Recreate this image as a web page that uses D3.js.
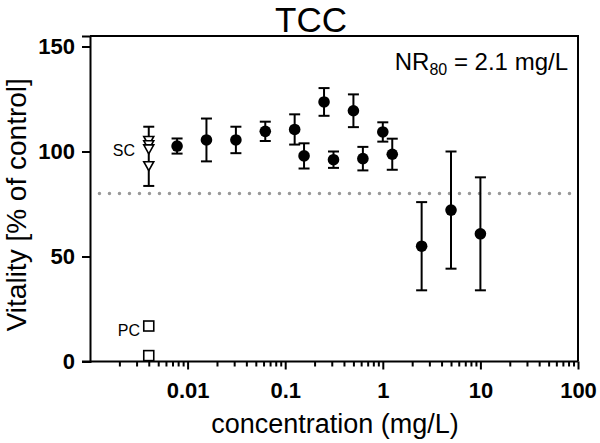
<!DOCTYPE html>
<html>
<head>
<meta charset="utf-8">
<script src="https://cdn.jsdelivr.net/npm/d3@7"></script>
<style>
  body { margin: 0; background: #fff; }
  text { font-family: "Liberation Sans", Arial, sans-serif; }
</style>
</head>
<body>
<script>
// concentrations (mg/L) and vitality mean / sd (% of control)
var conc = [0.0078, 0.0156, 0.03125, 0.0625, 0.125, 0.156, 0.25, 0.3125, 0.5, 0.625, 1, 1.25, 2.5, 5, 10];
var vitality = [102.6, 105.5, 105.5, 109.6, 110.5, 97.9, 123.6, 96.1, 119.4, 96.6, 109.3, 98.7, 54.9, 72.1, 60.8];
var vitalitySd = [3.6, 10.2, 6.3, 4.6, 7.2, 6.0, 6.6, 3.9, 7.8, 5.6, 4.6, 7.4, 21, 27.9, 26.9];

// solvent control and positive control (plotted at a dummy concentration)
var controlConc = 0.004;
var scValues = [105, 103, 101, 93];
var scMean = 97.7, scSd = 14.1;
var pcValues = [16.9, 2.8];

var threshold = 80;
var yTicks = [0, 50, 100, 150];
var xMajor = [0.01, 0.1, 1, 10, 100];
var xMinor = [];
[0.001, 0.01, 0.1, 1, 10].forEach(function (d) {
  for (var k = 2; k <= 9; k++) xMinor.push(d * k);
});

var width = 600, height = 443;
var plotLeft = 90, plotRight = 578, plotTop = 36, plotBottom = 361.5;

var svg = d3.select("body").append("svg")
  .attr("width", width)
  .attr("height", height);

var x = d3.scaleLog().domain([0.001, 100]).range([plotLeft, plotRight]);
var y = d3.scaleLinear().domain([0, 155]).range([plotBottom, plotTop]);

// frame top / right
svg.append("path")
  .attr("d", "M" + plotLeft + "," + plotTop + "H" + plotRight + "V" + plotBottom)
  .attr("fill", "none").attr("stroke", "#000").attr("stroke-width", 2);

// threshold dotted line
svg.append("line")
  .attr("x1", x(0.00125)).attr("x2", plotRight)
  .attr("y1", y(threshold)).attr("y2", y(threshold))
  .attr("stroke", "#999").attr("stroke-width", 3.5)
  .attr("stroke-linecap", "round").attr("stroke-dasharray", "0,10");

// y axis
var yAxis = svg.append("g")
  .attr("transform", "translate(" + plotLeft + ",0)")
  .call(d3.axisLeft(y).tickValues(yTicks).tickSize(8).tickPadding(7));
yAxis.selectAll("text").attr("font-size", 22).attr("font-weight", "bold")
  .attr("font-family", "Liberation Sans, Arial, sans-serif");

// x axis, minor then major
var xMinorAxis = svg.append("g")
  .attr("transform", "translate(0," + plotBottom + ")")
  .call(d3.axisBottom(x).tickValues(xMinor).tickSize(5).tickFormat(""));
var xAxis = svg.append("g")
  .attr("transform", "translate(0," + plotBottom + ")")
  .call(d3.axisBottom(x).tickValues(xMajor).tickSize(8).tickPadding(13)
    .tickFormat(function (d) { return d3.format("~g")(d); }));
xAxis.selectAll("text").attr("font-size", 22).attr("font-weight", "bold")
  .attr("font-family", "Liberation Sans, Arial, sans-serif");

svg.selectAll(".domain").attr("stroke-width", 2);
svg.selectAll(".tick line").attr("stroke-width", 2);
xAxis.select(".domain").attr("d", "M" + (plotLeft - 8) + ",0H" + plotRight);
xMinorAxis.select(".domain").remove();

// error bars
var rows = conc.map(function (c, i) { return { c: c, m: vitality[i], s: vitalitySd[i] }; });
rows.push({ c: controlConc, m: scMean, s: scSd });

var bars = svg.append("g").attr("stroke", "#000").attr("stroke-width", 2);
rows.forEach(function (r) {
  var cx = x(r.c);
  bars.append("line").attr("x1", cx).attr("x2", cx).attr("y1", y(r.m - r.s)).attr("y2", y(r.m + r.s));
  [r.m - r.s, r.m + r.s].forEach(function (v) {
    bars.append("line").attr("x1", cx - 5.5).attr("x2", cx + 5.5).attr("y1", y(v)).attr("y2", y(v));
  });
});

// solvent control triangles
svg.append("g").selectAll("path")
  .data(scValues).enter().append("path")
  .attr("d", "M-5,-4.5L5,-4.5L0,4.5Z")
  .attr("transform", function (d) { return "translate(" + x(controlConc) + "," + y(d) + ")"; })
  .attr("fill", "#fff").attr("stroke", "#000").attr("stroke-width", 1.6);

// positive control squares
svg.append("g").selectAll("rect")
  .data(pcValues).enter().append("rect")
  .attr("x", x(controlConc) - 5).attr("y", function (d) { return y(d) - 5; })
  .attr("width", 10).attr("height", 10)
  .attr("fill", "#fff").attr("stroke", "#000").attr("stroke-width", 1.6);

// data points
svg.append("g").selectAll("circle")
  .data(rows.slice(0, conc.length)).enter().append("circle")
  .attr("cx", function (d) { return x(d.c); })
  .attr("cy", function (d) { return y(d.m); })
  .attr("r", 5.8)
  .attr("fill", "#000");

// labels
svg.append("text").attr("x", 135).attr("y", 156).attr("text-anchor", "end")
  .attr("font-size", 16).text("SC");
svg.append("text").attr("x", 140).attr("y", 336).attr("text-anchor", "end")
  .attr("font-size", 16).text("PC");

svg.append("text").attr("x", 311).attr("y", 32).attr("text-anchor", "middle")
  .attr("font-size", 35).text("TCC");

var nr = svg.append("text").attr("x", 568).attr("y", 70).attr("text-anchor", "end")
  .attr("font-size", 24);
nr.append("tspan").text("NR");
nr.append("tspan").attr("font-size", 16).attr("dy", 5).text("80");
nr.append("tspan").attr("dy", -5).text(" = 2.1 mg/L");

svg.append("text").attr("x", 335).attr("y", 433).attr("text-anchor", "middle")
  .attr("font-size", 27).text("concentration (mg/L)");

svg.append("text")
  .attr("transform", "translate(26," + ((plotTop + plotBottom) / 2 + 6) + ") rotate(-90)")
  .attr("text-anchor", "middle")
  .attr("font-size", 28).text("Vitality [% of control]");
</script>
</body>
</html>
